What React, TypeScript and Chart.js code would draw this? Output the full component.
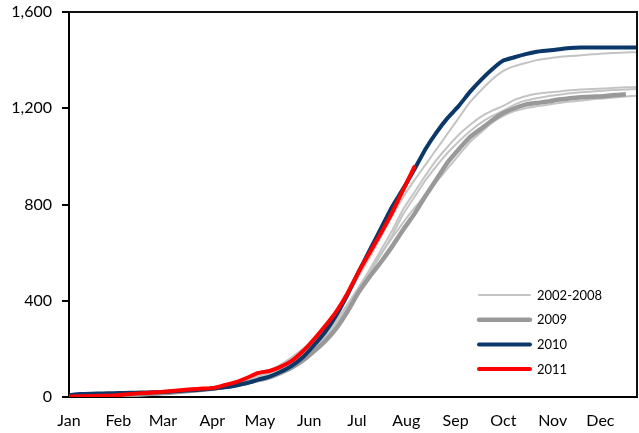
import React, { useEffect, useRef } from "react";
import { Chart, registerables } from "chart.js";

Chart.register(...registerables);

const MONTHS = ["Jan", "Feb", "Mar", "Apr", "May", "Jun", "Jul", "Aug", "Sep", "Oct", "Nov", "Dec"];
const MONTH_START_DAYS = [0, 31, 59, 90, 120, 151, 181, 212, 243, 273, 304, 334];
const Y_TICKS = [0, 400, 800, 1200, 1600];

// day of year for each weekly reading
const DAYS = [
  0, 7, 14, 21, 28, 35, 42, 49, 56, 63, 70, 77, 84, 91, 98, 105, 112, 119, 126, 133,
  140, 147, 154, 161, 168, 175, 182, 189, 196, 203, 210, 217, 224, 231, 238, 245, 252, 259, 266, 273,
  280, 287, 294, 301, 308, 315, 322, 329, 336, 343, 350, 357,
];

// 2002-2008 (individual years)
const HIST_A = [
  0, 2, 4, 6, 8, 10, 12, 15, 18, 22, 26, 30, 35, 40, 48, 58, 70, 88, 110, 135,
  165, 200, 238, 285, 345, 420, 500, 580, 665, 750, 830, 900, 965, 1030, 1095, 1160, 1225, 1275, 1320, 1355,
  1375, 1388, 1400, 1407, 1413, 1417, 1420, 1424, 1428, 1430, 1432, 1433,
];
const HIST_B = [
  0, 1, 3, 5, 7, 9, 11, 14, 17, 20, 24, 28, 32, 37, 44, 54, 68, 85, 108, 132,
  162, 192, 225, 268, 320, 385, 455, 530, 610, 690, 780, 850, 920, 985, 1040, 1090, 1130, 1165, 1190, 1210,
  1235, 1250, 1260, 1265, 1270, 1275, 1278, 1280, 1282, 1285, 1287, 1288,
];
const HIST_C = [
  0, 2, 4, 5, 7, 9, 12, 15, 18, 21, 25, 29, 34, 39, 46, 56, 70, 86, 105, 128,
  156, 185, 218, 262, 310, 370, 440, 515, 590, 670, 760, 830, 900, 960, 1015, 1062, 1104, 1140, 1168, 1190,
  1215, 1232, 1242, 1250, 1256, 1262, 1266, 1270, 1273, 1276, 1278, 1280,
];
const HIST_D = [
  0, 1, 2, 4, 6, 8, 10, 13, 16, 19, 23, 27, 31, 36, 43, 52, 64, 80, 98, 120,
  148, 175, 208, 250, 305, 372, 450, 525, 595, 660, 725, 785, 840, 895, 950, 1005, 1060, 1100, 1140, 1168,
  1188, 1200, 1208, 1215, 1222, 1228, 1232, 1237, 1241, 1245, 1249, 1252,
];
const Y2009 = [
  0, 1, 2, 3, 5, 7, 9, 12, 15, 18, 22, 26, 30, 35, 42, 50, 60, 70, 82, 100,
  122, 152, 190, 232, 285, 355, 435, 500, 560, 625, 695, 760, 835, 905, 975, 1030, 1080, 1115, 1150, 1180,
  1200, 1215, 1222, 1228, 1236, 1242, 1246, 1248, 1250, 1255, 1258, null,
];
const Y2010 = [
  8, 12, 14, 15, 16, 17, 18, 19, 20, 22, 25, 28, 31, 35, 40, 48, 58, 72, 85, 105,
  130, 165, 215, 270, 340, 425, 520, 610, 700, 790, 865, 945, 1030, 1100, 1160, 1210, 1268, 1318, 1362, 1398,
  1412, 1425, 1435, 1440, 1445, 1450, 1452, 1452, 1452, 1452, 1452, 1452,
];
const Y2011 = [
  2, 3, 4, 5, 6, 10, 14, 17, 20, 24, 28, 32, 35, 38, 50, 62, 80, 100, 108, 125,
  150, 190, 240, 295, 355, 430, 520, 600, 680, 765, 860, 955, null, null, null, null, null, null, null, null,
  null, null, null, null, null, null, null, null, null, null, null, null,
];

const FONT = "Lato, 'Open Sans', sans-serif";

const toPoints = (vals: (number | null)[]) => DAYS.map((d, i) => ({ x: d, y: vals[i] }));

const borderPlugin = {
  id: "boxBorder",
  afterDatasetsDraw(chart: any) {
    const { ctx, chartArea } = chart;
    ctx.save();
    ctx.strokeStyle = "#111";
    ctx.lineWidth = 2;
    ctx.beginPath();
    ctx.moveTo(chartArea.left, chartArea.top);
    ctx.lineTo(chartArea.right, chartArea.top);
    ctx.lineTo(chartArea.right, chartArea.bottom);
    ctx.stroke();
    ctx.restore();
  },
};

const legendPlugin = {
  id: "insideLegend",
  afterDraw(chart: any) {
    const ctx = chart.ctx;
    const items = chart.data.datasets.filter((d: any) => d.showInLegend);
    items.forEach((ds: any, i: number) => {
      const y = 295 + i * 24.7;
      ctx.save();
      ctx.strokeStyle = ds.borderColor;
      ctx.lineWidth = ds.borderWidth;
      ctx.lineCap = "round";
      ctx.beginPath();
      ctx.moveTo(479, y);
      ctx.lineTo(530, y);
      ctx.stroke();
      ctx.fillStyle = "#000";
      ctx.font = `13px ${FONT}`;
      ctx.textBaseline = "middle";
      ctx.textAlign = "left";
      ctx.fillText(ds.label, 537, y + 0.5);
      ctx.restore();
    });
  },
};

export default function App() {
  const ref = useRef<HTMLCanvasElement | null>(null);

  useEffect(() => {
    if (!ref.current) return;
    const gray = "#c4c4c4";
    const histCommon = {
      borderColor: gray,
      borderWidth: 2,
      order: 4,
      pointRadius: 0,
      tension: 0.15,
    };
    const chart = new Chart(ref.current, {
      type: "line",
      data: {
        datasets: [
          { ...histCommon, label: "2002-2008", data: toPoints(HIST_A), showInLegend: true } as any,
          { ...histCommon, label: "2002-2008", data: toPoints(HIST_B) } as any,
          { ...histCommon, label: "2002-2008", data: toPoints(HIST_C) } as any,
          { ...histCommon, label: "2002-2008", data: toPoints(HIST_D) } as any,
          {
            label: "2009",
            data: toPoints(Y2009),
            borderColor: "#999999",
            borderWidth: 4.5,
            order: 3,
            pointRadius: 0,
            tension: 0.15,
            showInLegend: true,
          } as any,
          {
            label: "2010",
            data: toPoints(Y2010),
            borderColor: "#0b3868",
            borderWidth: 4,
            order: 2,
            pointRadius: 0,
            tension: 0.15,
            showInLegend: true,
          } as any,
          {
            label: "2011",
            data: toPoints(Y2011),
            borderColor: "#ff0000",
            borderWidth: 4,
            order: 1,
            pointRadius: 0,
            tension: 0.15,
            borderCapStyle: "round",
            showInLegend: true,
          } as any,
        ],
      },
      options: {
        animation: false,
        responsive: false,
        events: [],
        layout: { padding: { top: 12, right: 2, left: 0, bottom: 0 } },
        plugins: {
          legend: { display: false },
          tooltip: { enabled: false },
        },
        scales: {
          x: {
            type: "linear",
            min: 0,
            max: 357,
            afterBuildTicks: (axis: any) => {
              axis.ticks = MONTH_START_DAYS.map((v) => ({ value: v }));
            },
            afterFit: (scale: any) => {
              scale.height = 36;
              scale.paddingLeft = 0;
              scale.paddingRight = 0;
            },
            ticks: {
              autoSkip: false,
              maxRotation: 0,
              padding: 6,
              color: "#000",
              font: { family: FONT, size: 16 },
              callback: (value: any) => MONTHS[MONTH_START_DAYS.indexOf(Number(value))] ?? "",
            },
            grid: { display: false },
            border: { display: true, color: "#000", width: 2 },
          },
          y: {
            type: "linear",
            min: 0,
            max: 1600,
            afterBuildTicks: (axis: any) => {
              axis.ticks = Y_TICKS.map((v) => ({ value: v }));
            },
            afterFit: (scale: any) => {
              scale.width = 69;
              scale.paddingTop = 0;
              scale.paddingBottom = 0;
            },
            ticks: {
              padding: 10,
              color: "#000",
              font: { family: FONT, size: 16 },
              callback: (value: any) => Number(value).toLocaleString("en-US"),
            },
            grid: {
              drawOnChartArea: false,
              drawTicks: true,
              tickLength: 7,
              color: "#000",
              lineWidth: 2,
            },
            border: { display: true, color: "#000", width: 2 },
          },
        },
      },
      plugins: [borderPlugin, legendPlugin],
    });
    return () => chart.destroy();
  }, []);

  return (
    <div style={{ position: "fixed", left: 0, top: 0, width: 639, height: 433, background: "#fff" }}>
      <canvas ref={ref} width={639} height={433} style={{ display: "block", width: 639, height: 433 }} />
    </div>
  );
}
